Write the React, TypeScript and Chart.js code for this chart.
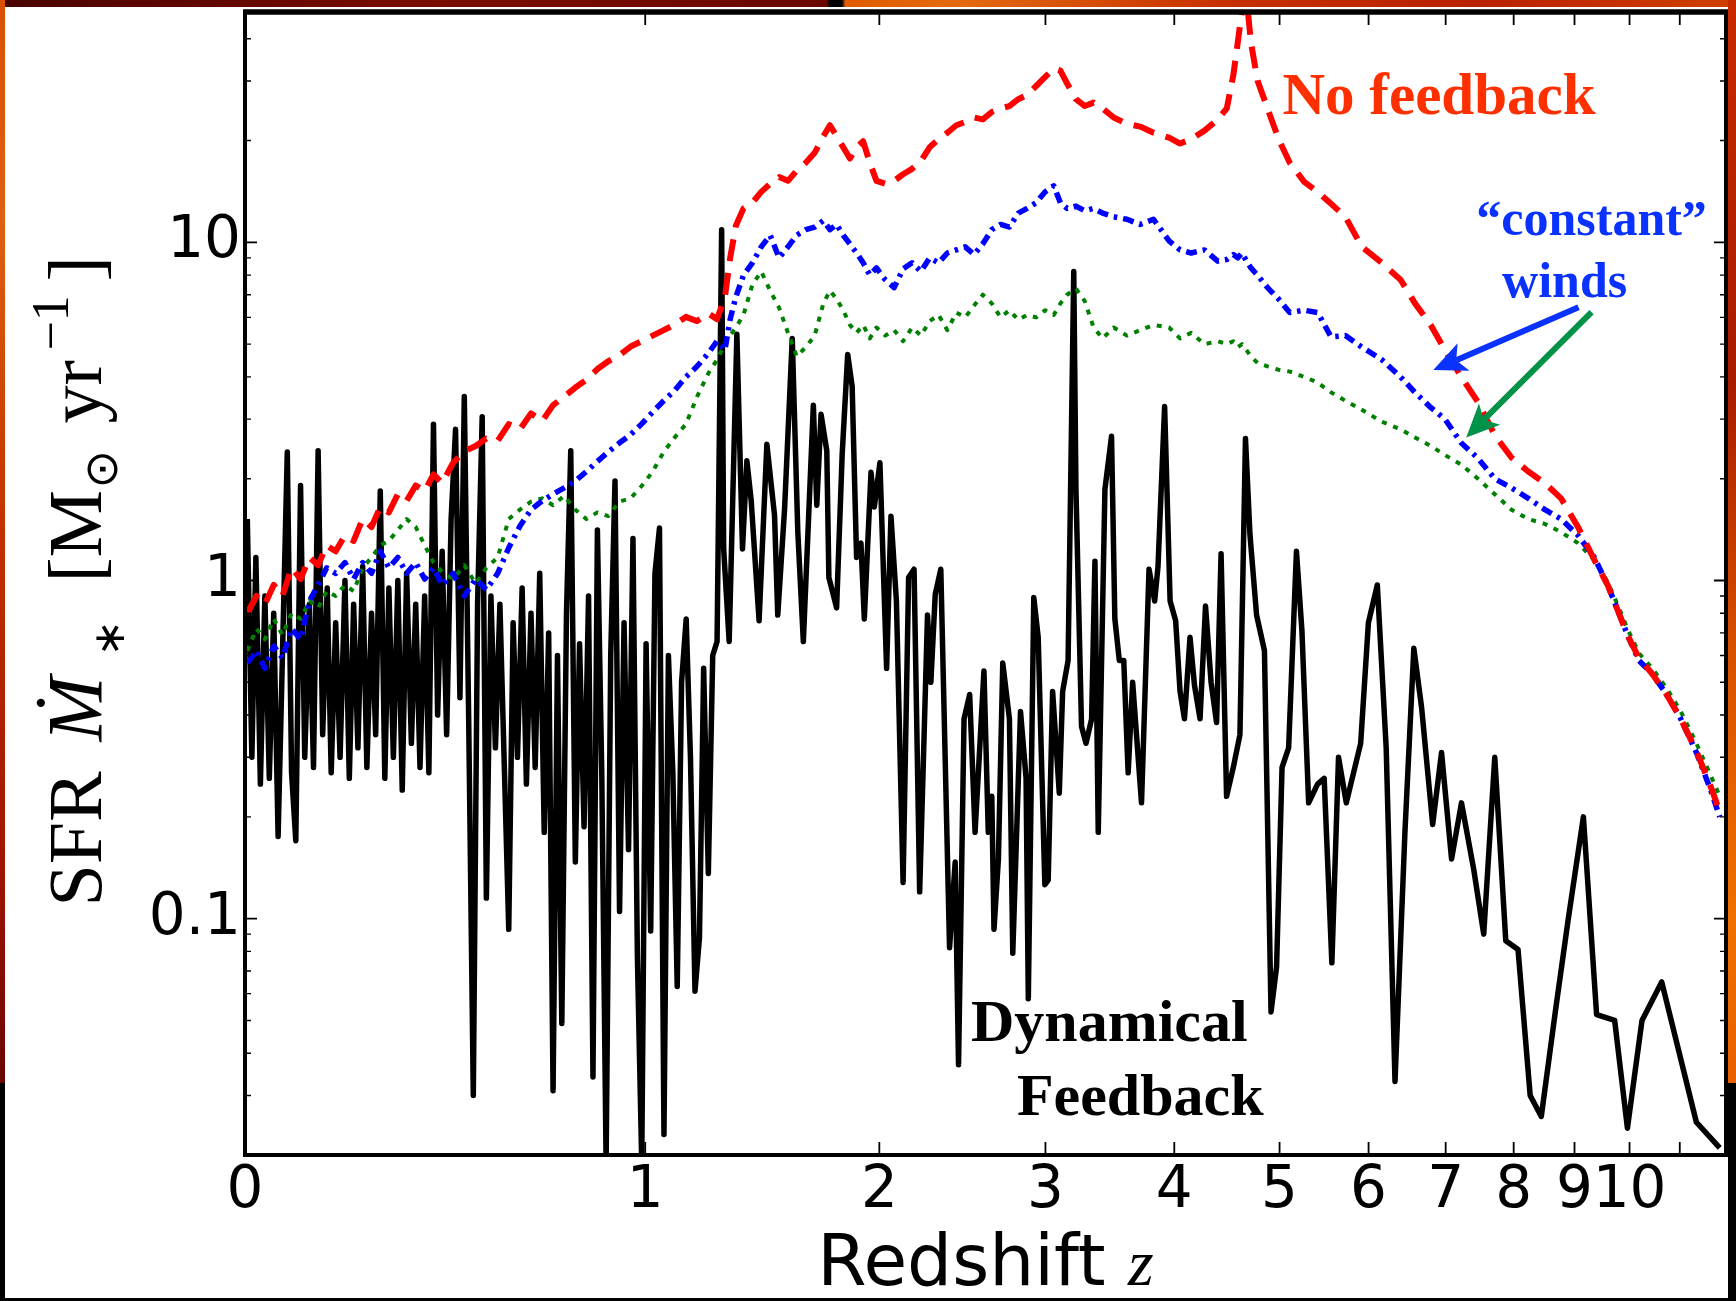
import React, { useEffect, useRef } from "react";
import { Chart, registerables } from "chart.js";

Chart.register(...registerables);

// ---------------- data ----------------
// shared redshift grid for the "No feedback" and "constant winds" runs
const zGrid = [
  0.004, 0.02, 0.035, 0.051, 0.067, 0.084, 0.101, 0.118, 0.135, 0.152, 0.17, 0.189, 0.207, 0.226, 0.245, 0.264, 0.283, 0.303, 0.323, 0.344, 0.365, 0.386, 0.407,
  0.434, 0.462, 0.491, 0.519, 0.549, 0.579, 0.61, 0.641, 0.673, 0.705, 0.738, 0.772, 0.806, 0.841, 0.876, 0.912, 0.95, 0.987, 1.026, 1.065, 1.105, 1.146, 1.188, 1.231,
  1.265, 1.296, 1.317, 1.34,
  1.371, 1.408, 1.445, 1.483, 1.522, 1.561, 1.6, 1.641, 1.682, 1.723,
  1.754, 1.786, 1.818, 1.851, 1.884, 1.917, 1.951, 1.985,
  2.031, 2.078, 2.126, 2.175, 2.224, 2.273, 2.324, 2.375, 2.428, 2.481, 2.535, 2.589, 2.645, 2.701, 2.758, 2.816, 2.875, 2.936, 2.997, 3.058,
  3.105, 3.153,
  3.217, 3.282, 3.348, 3.416,
  3.502, 3.606, 3.713, 3.823, 3.955, 4.05, 4.148, 4.268, 4.391,
  4.476, 4.538, 4.581, 4.623, 4.666, 4.71, 4.775,
  4.876, 4.99, 5.107, 5.262, 5.41, 5.56, 5.725, 5.918, 6.161, 6.399, 6.586, 6.795, 6.99,
  7.22, 7.46, 7.71, 7.965, 8.23, 8.5, 8.77, 9.06, 9.35,
  9.59, 9.8, 9.96, 10.18, 10.44, 10.73, 11.02, 11.35, 11.66, 11.86,
];

const sfrNoFeedback = [
  0.8, 0.9, 0.85, 0.97, 0.9, 1.09, 1.01, 1.17, 1.11, 1.27, 1.22, 1.36, 1.31, 1.52, 1.44, 1.65, 1.59, 1.8, 1.72, 1.91, 1.84, 2.06, 1.94,
  2.23, 2.41, 2.5, 2.63, 2.59, 2.9, 2.8, 3.12, 2.96, 3.3, 3.5, 3.72, 3.92, 4.22, 4.45, 4.63, 4.92, 5.1, 5.3, 5.5, 5.71, 6.02, 5.85, 6.16,
  5.93, 6.9, 9.0, 11.2,
  12.6, 13.1, 14.1, 14.9, 15.6, 15.2, 16.3, 17.2, 18.4, 20.6,
  22.2, 20.6, 19.1, 17.7, 19.1, 19.9, 17.2, 15.2,
  14.9, 15.2, 15.9, 16.5, 17.4, 19.1, 20.2, 21.1, 22.2, 22.7, 23.4, 23.1, 24.3, 24.9, 25.3, 26.5, 27.3, 29.0, 30.8, 32.7,
  32.2, 29.5,
  26.5, 25.3, 25.9, 24.9,
  23.4, 22.4, 22.0, 21.1, 20.4, 19.6, 20.2, 21.4, 23.1,
  24.9, 31.2, 39, 49, 53, 39, 30.1,
  24.9, 20.2, 17.2, 15.1, 14.1, 13.0, 11.9, 9.7, 8.7, 7.75, 6.6, 5.7, 4.8,
  4.0, 3.37, 2.69, 2.31, 2.1, 1.94, 1.75, 1.44, 1.15,
  0.97, 0.8, 0.69, 0.59, 0.53, 0.46, 0.39, 0.313, 0.246, 0.207,
];

const sfrWindsBlue = [
  0.57, 0.62, 0.55, 0.64, 0.59, 0.72, 0.67, 0.87, 0.97, 1.09, 1.05, 1.13, 1.01, 1.13, 1.05, 1.22, 1.09, 1.17, 1.05, 1.13, 1.01, 1.09, 0.97,
  1.05, 0.9, 1.01, 0.94, 1.05, 1.25, 1.45, 1.62, 1.72, 1.8, 1.88, 1.97, 2.1, 2.25, 2.4, 2.55, 2.7, 2.9, 3.15, 3.4, 3.65, 4.0, 4.3, 4.7,
  5.11, 4.8, 5.93, 6.9,
  8.0, 8.7, 9.7, 10.5, 9.0, 9.7, 10.5, 10.9, 11.1, 11.6,
  10.9, 11.3, 10.5, 9.9, 9.3, 8.7, 8.0, 8.4,
  7.75, 7.35, 8.35, 8.7, 8.2, 9.0, 8.7, 9.3, 9.5, 9.7, 9.2, 9.9, 10.9, 11.3, 11.1, 12.2, 12.6, 13.1, 14.1, 14.7,
  13.1, 12.6,
  12.8, 12.4, 12.6, 12.2,
  11.9, 11.7, 11.3, 11.7, 10.1, 9.5, 9.3, 9.5, 8.8,
  8.9, 9.2, 9.0, 9.3, 8.8, 8.4, 8.0,
  7.35, 6.8, 6.2, 6.3, 6.2, 5.25, 5.3, 4.9, 4.5, 4.0, 3.6, 3.25, 3.0,
  2.55, 2.3, 2.0, 1.88, 1.75, 1.62, 1.52, 1.36, 1.17,
  0.97, 0.8, 0.69, 0.58, 0.53, 0.46, 0.39, 0.31, 0.24, 0.2,
];

const sfrWindsGreen = [
  0.62, 0.72, 0.67, 0.77, 0.69, 0.8, 0.77, 0.87, 0.83, 0.93, 0.9, 0.97, 0.93, 1.09, 1.17, 1.27, 1.31, 1.41, 1.52, 1.44, 1.27, 1.13, 1.06,
  1.01, 1.11, 0.98, 1.09, 1.17, 1.52, 1.62, 1.71, 1.75, 1.67, 1.78, 1.62, 1.52, 1.59, 1.55, 1.71, 1.75, 1.9, 2.1, 2.4, 2.65, 2.9, 3.5, 4.1,
  4.5, 5.0, 5.3, 5.6,
  6.1, 7.5, 8.2, 7.2, 6.4, 5.4, 4.6, 4.9, 5.3, 6.6,
  7.2, 6.8, 6.3, 5.7, 5.4, 5.7, 5.2, 5.6,
  5.3, 5.5, 5.1, 5.6, 5.3, 5.85, 6.1, 5.5, 6.2, 6.0, 6.5, 7.0, 6.6, 6.0, 6.3, 5.9, 6.1, 6.0, 6.3, 6.1,
  6.6, 7.0,
  7.3, 6.7, 5.6, 5.2,
  5.6, 5.3, 5.5, 5.7, 5.6, 5.2, 5.4, 5.0, 5.1,
  5.0, 5.1, 4.9, 5.0, 4.8, 4.6, 4.4,
  4.3, 4.2, 4.15, 4.0, 3.85, 3.6, 3.4, 3.2, 2.95, 2.8, 2.65, 2.5, 2.35,
  2.2, 2.0, 1.8, 1.62, 1.52, 1.47, 1.39, 1.29, 1.15,
  0.99, 0.83, 0.72, 0.61, 0.55, 0.48, 0.41, 0.33, 0.265, 0.23,
];

// "Dynamical Feedback" run (solid black)
const zDynamical = [
  0.004, 0.012, 0.019, 0.027, 0.035, 0.043, 0.051, 0.059, 0.067, 0.076,
  0.084, 0.092, 0.101, 0.109, 0.118, 0.126, 0.135, 0.144, 0.153, 0.161,
  0.17, 0.179, 0.189, 0.198, 0.207, 0.216, 0.226, 0.235, 0.245, 0.254,
  0.264, 0.274, 0.283, 0.293, 0.303, 0.313, 0.323, 0.334, 0.344, 0.354,
  0.365, 0.375, 0.386, 0.396, 0.407, 0.418, 0.429, 0.44, 0.451, 0.462,
  0.473, 0.485, 0.496, 0.508, 0.519, 0.531, 0.543, 0.555, 0.567, 0.579,
  0.591, 0.603, 0.616, 0.628, 0.641, 0.653, 0.666, 0.679, 0.692, 0.705,
  0.718, 0.731, 0.745, 0.758, 0.772, 0.785, 0.799, 0.813, 0.827, 0.841,
  0.855, 0.869, 0.884, 0.898, 0.913, 0.928, 0.943, 0.958, 0.973, 0.988,
  1.003, 1.019, 1.034, 1.05, 1.066, 1.082, 1.098, 1.114, 1.13, 1.147,
  1.163, 1.18, 1.197, 1.213, 1.231, 1.248, 1.265,
  1.283, 1.291, 1.313, 1.344, 1.367, 1.385, 1.403, 1.436, 1.469, 1.502,
  1.516, 1.546, 1.58, 1.605, 1.63, 1.676, 1.692, 1.712, 1.739, 1.749,
  1.786, 1.813, 1.84, 1.862, 1.884, 1.906, 1.923, 1.957, 1.974, 2.003,
  2.038, 2.061, 2.09, 2.126, 2.156, 2.186, 2.217, 2.261, 2.28, 2.305,
  2.337, 2.388, 2.421, 2.441, 2.474, 2.508, 2.541, 2.596, 2.623, 2.645,
  2.659, 2.687, 2.715, 2.758, 2.78, 2.831, 2.868, 2.883, 2.92, 2.95,
  2.996, 3.019, 3.05, 3.097, 3.121, 3.16, 3.201, 3.217, 3.258, 3.291,
  3.333, 3.358, 3.383, 3.434, 3.485, 3.511, 3.546, 3.581, 3.616, 3.652,
  3.724, 3.786, 3.833, 3.861, 3.917, 3.964, 4.012, 4.05, 4.089, 4.138,
  4.178, 4.228, 4.278, 4.329, 4.38, 4.422, 4.474, 4.538, 4.602, 4.656,
  4.7, 4.766, 4.845, 4.912, 4.969, 5.026, 5.095, 5.178, 5.237, 5.31,
  5.408, 5.482, 5.569, 5.645, 5.735, 5.905, 5.998, 6.107, 6.217, 6.328,
  6.455, 6.571, 6.674, 6.822, 6.943, 7.082, 7.222, 7.398, 7.545, 7.71,
  7.878, 8.068, 8.261, 8.441, 8.679, 8.886, 9.155, 9.39, 9.72, 9.96,
  10.24, 10.63, 11.35, 11.86,
];

const sfrDynamical = [
  1.52, 0.3, 1.17, 0.25, 0.9, 0.26, 0.8, 0.175, 0.6, 2.4,
  0.27, 0.17, 1.91, 0.3, 0.85, 0.28, 2.42, 0.35, 0.95, 0.27,
  0.75, 0.3, 1.0, 0.26, 0.85, 0.32, 1.1, 0.28, 0.8, 0.35,
  1.84, 0.26, 0.95, 0.3, 1.0, 0.24, 1.05, 0.33, 0.85, 0.28,
  0.9, 0.27, 2.9, 0.4, 1.22, 0.35, 1.52, 2.8, 0.45, 3.5,
  0.4, 0.03, 0.85, 3.05, 0.115, 0.9, 0.32, 0.85, 0.28, 0.093,
  0.75, 0.3, 0.95, 0.25, 0.8, 0.28, 1.05, 0.18, 0.7, 0.031,
  0.6, 0.049, 0.8, 2.42, 0.147, 0.65, 0.187, 0.9, 0.034, 1.41,
  0.27, 0.019, 0.6, 1.97, 0.105, 0.75, 0.16, 1.33, 0.078, 0.019,
  0.65, 0.092, 1.05, 1.43, 0.023, 0.6, 0.27, 0.063, 0.5, 0.77,
  0.3, 0.061, 0.088, 0.55, 0.136, 0.6, 0.66,
  10.9, 1.24, 0.66, 5.35, 1.24, 2.26, 1.72, 0.76, 2.53, 1.56,
  0.79, 1.63, 5.2, 1.39, 0.66, 3.3, 1.67, 3.1, 2.42, 1.02,
  0.83, 2.36, 4.66, 3.75, 1.17, 1.29, 0.77, 2.09, 1.65, 2.23,
  0.55, 1.55, 0.87, 0.128, 1.02, 1.08, 0.12, 0.79, 0.5, 0.91,
  1.08, 0.082, 0.147, 0.037, 0.39, 0.46, 0.18, 0.54, 0.18, 0.23,
  0.093, 0.15, 0.57, 0.39, 0.079, 0.41, 0.26, 0.058, 0.89, 0.68,
  0.126, 0.13, 0.47, 0.235, 0.47, 0.58, 8.2, 1.86, 0.37, 0.33,
  0.39, 1.14, 0.18, 1.86, 2.67, 0.77, 0.58, 0.58, 0.27, 0.5,
  0.22, 1.08, 0.87, 1.1, 3.27, 0.87, 0.76, 0.47, 0.39, 0.68,
  0.49, 0.39, 0.84, 0.5, 0.38, 1.2, 0.23, 0.28, 0.35, 2.63,
  1.37, 0.79, 0.62, 0.053, 0.072, 0.28, 0.32, 1.22, 0.71, 0.22,
  0.25, 0.26, 0.074, 0.3, 0.22, 0.33, 0.75, 0.97, 0.32, 0.033,
  0.18, 0.63, 0.42, 0.19, 0.31, 0.15, 0.22, 0.14, 0.09, 0.3,
  0.086, 0.081, 0.03, 0.026, 0.054, 0.098, 0.2, 0.052, 0.05, 0.024,
  0.05, 0.065, 0.025, 0.021,
];

// axes
const xTickRedshifts = [0, 1, 2, 3, 4, 5, 6, 7, 8, 9, 10, 11];
const xTickLabels = ["0", "1", "2", "3", "4", "5", "6", "7", "8", "9", "10", ""];
const yMajorTicks = [0.1, 1, 10];
const yTickLabels = ["0.1", "1", "10"];
const yMinorMantissas = [2, 3, 4, 5, 6, 7, 8, 9];
const yDecades = [0.01, 0.1, 1, 10];
const xLimits = [0, 12]; // redshift
const yLimits = [0.02, 48];

// annotations (anchored in data coordinates: redshift, SFR)
const annotationTexts = [
  { text: "No feedback", z: 5.03, sfr: 23.9, align: "left", color: "#ff3000", size: 59 },
  { text: "\u201Cconstant\u201D", z: 9.3, sfr: 10.5, align: "center", color: "#0a32ff", size: 50 },
  { text: "winds", z: 8.83, sfr: 6.89, align: "center", color: "#0a32ff", size: 50 },
  { text: "Dynamical", z: 2.516, sfr: 0.0436, align: "left", color: "#000000", size: 60 },
  { text: "Feedback", z: 2.807, sfr: 0.0262, align: "left", color: "#000000", size: 60 },
];
const annotationArrows = [
  { z0: 9.07, v0: 6.43, z1: 6.83, v1: 4.19, color: "#0a32ff" },
  { z0: 9.3, v0: 6.22, z1: 7.29, v1: 2.65, color: "#009248" },
];

// ---------------- helpers ----------------
const SERIF = "'Liberation Serif', 'Times New Roman', serif";
const SANS = "'DejaVu Sans', sans-serif";

function toPoints(zs: number[], vs: number[]) {
  const n = Math.min(zs.length, vs.length);
  const out: { x: number; y: number }[] = [];
  for (let i = 0; i < n; i++) out.push({ x: 1 + zs[i], y: vs[i] });
  return out;
}

function drawArrow(ctx: CanvasRenderingContext2D, x0: number, y0: number, x1: number, y1: number, color: string) {
  const dx = x1 - x0, dy = y1 - y0;
  const len = Math.hypot(dx, dy);
  const ux = dx / len, uy = dy / len;
  const nx = -uy, ny = ux;
  const headLen = 33, headHalf = 15, notch = 8;
  const bx = x1 - ux * headLen, by = y1 - uy * headLen;
  const mx = x1 - ux * (headLen - notch), my = y1 - uy * (headLen - notch);
  ctx.strokeStyle = color;
  ctx.lineWidth = 6;
  ctx.lineCap = "butt";
  ctx.setLineDash([]);
  ctx.beginPath();
  ctx.moveTo(x0, y0);
  ctx.lineTo(mx, my);
  ctx.stroke();
  ctx.fillStyle = color;
  ctx.beginPath();
  ctx.moveTo(x1, y1);
  ctx.lineTo(bx + nx * headHalf, by + ny * headHalf);
  ctx.lineTo(mx, my);
  ctx.lineTo(bx - nx * headHalf, by - ny * headHalf);
  ctx.closePath();
  ctx.fill();
}

const decorPlugin = {
  id: "decor",
  afterDatasetsDraw(chart: any) {
    const { ctx, scales } = chart;
    const xs = scales.x, ys = scales.y;
    ctx.save();
    for (const a of annotationTexts) {
      ctx.font = `bold ${a.size}px ${SERIF}`;
      ctx.fillStyle = a.color;
      ctx.textAlign = a.align;
      ctx.textBaseline = "alphabetic";
      ctx.fillText(a.text, xs.getPixelForValue(1 + a.z), ys.getPixelForValue(a.sfr));
    }
    for (const ar of annotationArrows) {
      drawArrow(
        ctx,
        xs.getPixelForValue(1 + ar.z0), ys.getPixelForValue(ar.v0),
        xs.getPixelForValue(1 + ar.z1), ys.getPixelForValue(ar.v1),
        ar.color
      );
    }
    ctx.restore();
  },
  afterDraw(chart: any) {
    const { ctx, chartArea: a, scales } = chart;
    const xs = scales.x, ys = scales.y;
    ctx.save();
    ctx.strokeStyle = "#000";
    ctx.setLineDash([]);
    ctx.lineCap = "butt";
    // x ticks (inside, bottom and top)
    ctx.lineWidth = 1.8;
    for (const z of xTickRedshifts) {
      if (z === 0) continue;
      const px = xs.getPixelForValue(1 + z);
      ctx.beginPath();
      ctx.moveTo(px, a.bottom); ctx.lineTo(px, a.bottom - 13);
      ctx.moveTo(px, a.top); ctx.lineTo(px, a.top + 13);
      ctx.stroke();
    }
    // y ticks (major + minor, left and right)
    for (const d of yDecades) {
      for (const m of [1, ...yMinorMantissas]) {
        const v = m * d;
        if (v <= yLimits[0] * 1.001 || v >= yLimits[1]) continue;
        const py = ys.getPixelForValue(v);
        const L = m === 1 ? 12 : 6;
        ctx.lineWidth = m === 1 ? 1.8 : 1.4;
        ctx.beginPath();
        ctx.moveTo(a.left, py); ctx.lineTo(a.left + L, py);
        ctx.moveTo(a.right, py); ctx.lineTo(a.right - L, py);
        ctx.stroke();
      }
    }
    // frame
    ctx.lineWidth = 4;
    ctx.strokeRect(a.left, a.top, a.right - a.left, a.bottom - a.top);
    ctx.lineWidth = 5.5;
    ctx.beginPath();
    ctx.moveTo(a.left - 2, a.top); ctx.lineTo(a.right + 2, a.top);
    ctx.stroke();

    // x axis title: "Redshift z"
    ctx.fillStyle = "#000";
    ctx.textBaseline = "alphabetic";
    ctx.textAlign = "left";
    const fontA = `71px ${SANS}`;
    const fontB = `italic 66px ${SERIF}`;
    ctx.font = fontA;
    const w1 = ctx.measureText("Redshift ").width;
    ctx.font = fontB;
    const w2 = ctx.measureText("z").width;
    const cx = (a.left + a.right) / 2;
    const x0 = cx - (w1 + w2) / 2;
    const base = a.bottom + 130;
    ctx.font = fontA;
    ctx.fillText("Redshift ", x0, base);
    ctx.font = fontB;
    ctx.fillText("z", x0 + w1, base);

    // y axis title: SFR  Ṁ∗ [M⊙ yr⁻¹]
    const cy = (a.top + a.bottom) / 2;
    ctx.translate(96, cy + 323);
    ctx.rotate(-Math.PI / 2);
    const pieces = [
      { t: "SFR", at: 0, dy: 0, font: `76px ${SERIF}`, bl: "alphabetic" },
      { t: "\u1E40", at: 165, dy: 0, font: `italic 78px ${SERIF}`, bl: "alphabetic" },
      { t: "\u2217", at: 250, dy: 12, font: `44px ${SANS}`, bl: "middle" },
      { t: "[", at: 324, dy: 0, font: `76px ${SERIF}`, bl: "alphabetic" },
      { t: "M", at: 349, dy: 0, font: `76px ${SERIF}`, bl: "alphabetic" },
      { t: "\u2299", at: 418, dy: 4, font: `46px ${SANS}`, bl: "middle" },
      { t: "yr", at: 483, dy: 0, font: `76px ${SERIF}`, bl: "alphabetic" },
      { t: "\u22121", at: 556, dy: -33, font: `52px ${SERIF}`, bl: "alphabetic" },
      { t: "]", at: 625, dy: 0, font: `76px ${SERIF}`, bl: "alphabetic" },
    ];
    for (const p of pieces) {
      ctx.font = p.font;
      ctx.textBaseline = p.bl as CanvasTextBaseline;
      ctx.fillText(p.t, p.at, p.dy);
    }
    ctx.restore();
  },
};

export default function App() {
  const ref = useRef<HTMLCanvasElement | null>(null);

  useEffect(() => {
    document.body.style.margin = "0";
    document.body.style.overflow = "hidden";
    const canvas = ref.current;
    if (!canvas) return;
    const chart = new Chart(canvas, {
      type: "line",
      data: {
        datasets: [
          {
            label: "No feedback",
            data: toPoints(zGrid, sfrNoFeedback),
            borderColor: "#ff0000",
            borderWidth: 6,
            borderDash: [22, 12],
            order: 0,
          },
          {
            label: "constant winds (blue)",
            data: toPoints(zGrid, sfrWindsBlue),
            borderColor: "#0000ff",
            borderWidth: 5.5,
            borderDash: [11, 6, 3.5, 6],
            order: 1,
          },
          {
            label: "constant winds (green)",
            data: toPoints(zGrid, sfrWindsGreen),
            borderColor: "#008000",
            borderWidth: 4,
            borderDash: [5, 7],
            order: 2,
          },
          {
            label: "Dynamical Feedback",
            data: toPoints(zDynamical, sfrDynamical),
            borderColor: "#000000",
            borderWidth: 5.5,
            order: 3,
          },
        ] as any,
      },
      options: {
        animation: false,
        responsive: false,
        maintainAspectRatio: false,
        devicePixelRatio: 1,
        events: [],
        layout: { padding: { left: 0, right: 2, top: 5, bottom: 0 } },
        elements: {
          point: { radius: 0, hoverRadius: 0 },
          line: { tension: 0, borderJoinStyle: "round", borderCapStyle: "butt", fill: false },
        },
        plugins: {
          legend: { display: false },
          tooltip: { enabled: false },
        },
        scales: {
          x: {
            type: "logarithmic",
            min: 1 + xLimits[0],
            max: 1 + xLimits[1],
            grid: { display: false, drawTicks: false },
            border: { display: false },
            afterBuildTicks: (scale: any) => {
              scale.ticks = xTickRedshifts.map((z) => ({ value: 1 + z }));
            },
            afterFit: (scale: any) => {
              scale.height = 143;
              scale.paddingLeft = 0;
              scale.paddingRight = 0;
              scale.paddingTop = 0;
              scale.paddingBottom = 0;
            },
            ticks: {
              autoSkip: false,
              maxRotation: 0,
              minRotation: 0,
              padding: 2,
              color: "#000",
              font: { family: SANS, size: 58 },
              callback: (value: any) => {
                const i = xTickRedshifts.findIndex((z) => Math.abs(1 + z - Number(value)) < 1e-6);
                return i >= 0 ? xTickLabels[i] : "";
              },
            },
          },
          y: {
            type: "logarithmic",
            min: yLimits[0],
            max: yLimits[1],
            grid: { display: false, drawTicks: false },
            border: { display: false },
            afterBuildTicks: (scale: any) => {
              scale.ticks = yMajorTicks.map((v) => ({ value: v }));
            },
            afterFit: (scale: any) => {
              scale.width = 240;
              scale.paddingLeft = 0;
              scale.paddingRight = 0;
              scale.paddingTop = 0;
              scale.paddingBottom = 0;
            },
            ticks: {
              autoSkip: false,
              padding: 4,
              color: "#000",
              font: { family: SANS, size: 58 },
              callback: (value: any) => {
                const i = yMajorTicks.findIndex((v) => Math.abs(v - Number(value)) < 1e-9);
                return i >= 0 ? yTickLabels[i] : "";
              },
            },
          },
        },
      } as any,
      plugins: [decorPlugin as any],
    });
    return () => chart.destroy();
  }, []);

  return (
    <div style={{ position: "absolute", left: 0, top: 0, width: 1736, height: 1301, background: "#000", overflow: "hidden" }}>
      <div
        style={{
          position: "absolute", left: 0, top: 0, width: 1736, height: 7,
          background:
            "linear-gradient(to right, #4a0300 0%, #7a0c00 25%, #6a0800 47.6%, #000 47.8%, #000 48.5%, #e05a00 48.7%, #e46a10 55%, #c83200 70%, #b82000 85%, #d04000 100%)",
        }}
      />
      <div
        style={{
          position: "absolute", left: 0, top: 0, width: 5, height: 1083,
          background: "linear-gradient(to bottom, #d85000 0%, #e06010 20%, #c03000 50%, #a01400 80%, #6a0500 100%)",
        }}
      />
      <div
        style={{
          position: "absolute", left: 1728, top: 0, width: 8, height: 1083,
          background: "linear-gradient(to bottom, #c82a00 0%, #a81c00 35%, #d85000 60%, #f07000 85%, #e86000 100%)",
        }}
      />
      <div style={{ position: "absolute", left: 5, top: 7, width: 1723, height: 1291, background: "#fff" }}>
        <canvas ref={ref} width={1723} height={1291} style={{ display: "block", width: 1723, height: 1291 }} />
      </div>
    </div>
  );
}
